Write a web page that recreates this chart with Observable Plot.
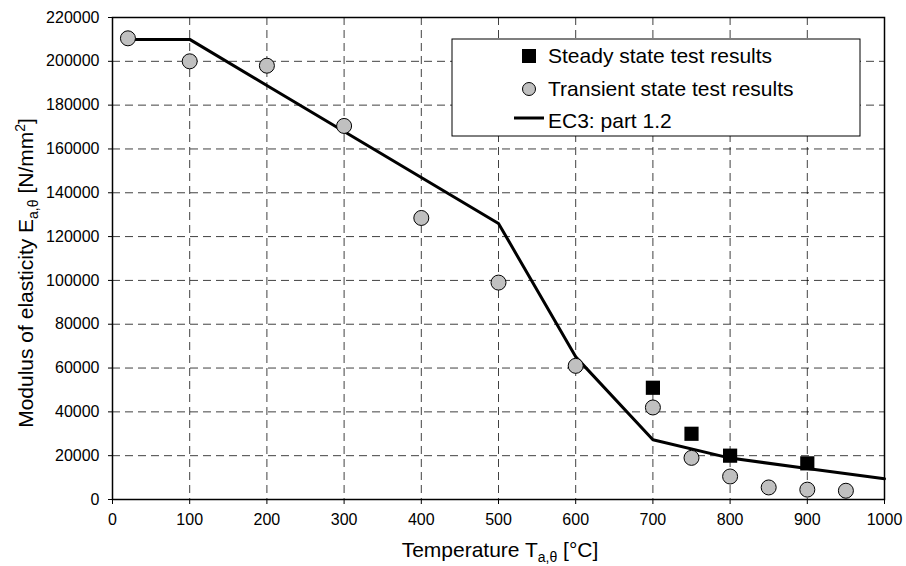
<!DOCTYPE html>
<html>
<head>
<meta charset="utf-8">
<script src="https://cdn.jsdelivr.net/npm/d3@7"></script>
<script src="https://cdn.jsdelivr.net/npm/@observablehq/plot@0.6"></script>
<style>
  body { margin: 0; background: #fff; }
  #chart svg { display: block; }
</style>
</head>
<body>
<div id="chart"></div>
<script>
// --- data ---
const transientT = [20, 100, 200, 300, 400, 500, 600, 700, 750, 800, 850, 900, 950];
const transientE = [210500, 200000, 198000, 170500, 128500, 99000, 61000, 42000, 19000, 10500, 5500, 4500, 4000];
const steadyT = [700, 750, 800, 900];
const steadyE = [51000, 30000, 20000, 16500];
const ec3T = [20, 100, 200, 300, 400, 500, 600, 700, 800, 900, 1000];
const ec3E = [210000, 210000, 189000, 168000, 147000, 126000, 65100, 27300, 18900, 14175, 9450];
const xTicks = [0, 100, 200, 300, 400, 500, 600, 700, 800, 900, 1000];
const yTicks = [0, 20000, 40000, 60000, 80000, 100000, 120000, 140000, 160000, 180000, 200000, 220000];
const legendLabels = ["Steady state test results", "Transient state test results", "EC3: part 1.2"];

const transient = transientT.map((t, i) => ({t, e: transientE[i]}));
const steady = steadyT.map((t, i) => ({t, e: steadyE[i]}));
const ec3 = ec3T.map((t, i) => ({t, e: ec3E[i]}));

const font = "'Liberation Sans', Arial, sans-serif";
const grid = {stroke: "#000", strokeOpacity: 0.75, strokeDasharray: "8,5", strokeWidth: 1};

const plot = Plot.plot({
  width: 906,
  height: 566,
  marginLeft: 112,
  marginRight: 22,
  marginTop: 17,
  marginBottom: 67,
  style: {fontFamily: font, fontSize: "16px", color: "#000", background: "#fff"},
  x: {domain: [0, 1000]},
  y: {domain: [0, 220000]},
  marks: [
    Plot.gridX(xTicks.slice(1, -1), grid),
    Plot.gridY(yTicks.slice(1, -1), grid),
    Plot.axisX(xTicks, {tickSize: 5, tickPadding: 9, label: null, tickFormat: d3.format("d"), fontSize: 16}),
    Plot.axisY(yTicks, {tickSize: 4, tickPadding: 9, label: null, tickFormat: d3.format("d"), fontSize: 16}),
    Plot.frame({stroke: "#000", strokeWidth: 1.5}),
    Plot.line(ec3, {x: "t", y: "e", stroke: "#000", strokeWidth: 3}),
    Plot.dot(transient, {x: "t", y: "e", r: 7.5, fill: "#c0c0c0", stroke: "#000", strokeWidth: 1}),
    Plot.dot(steady, {x: "t", y: "e", r: 8, symbol: "square", fill: "#000", stroke: "none"})
  ]
});
document.getElementById("chart").appendChild(plot);

const svg = d3.select(plot);

// axis labels with subscripts
const yl = svg.append("text")
  .attr("transform", "translate(33,273) rotate(-90)")
  .attr("text-anchor", "middle")
  .style("font-family", font).style("font-size", "21px").attr("fill", "#000");
yl.append("tspan").text("Modulus of elasticity E");
yl.append("tspan").attr("dy", 5).style("font-size", "14px").text("a,θ");
yl.append("tspan").attr("dy", -5).text(" [N/mm");
yl.append("tspan").attr("dy", -8).style("font-size", "14px").text("2");
yl.append("tspan").attr("dy", 8).text("]");

const xl = svg.append("text")
  .attr("x", 500).attr("y", 557)
  .attr("text-anchor", "middle")
  .style("font-family", font).style("font-size", "21px").attr("fill", "#000");
xl.append("tspan").text("Temperature T");
xl.append("tspan").attr("dy", 5).style("font-size", "14px").text("a,θ");
xl.append("tspan").attr("dy", -5).text(" [°C]");

// legend
const lg = svg.append("g");
lg.append("rect").attr("x", 452).attr("y", 39).attr("width", 408).attr("height", 97)
  .attr("fill", "#fff").attr("stroke", "#000").attr("stroke-width", 1);
lg.append("rect").attr("x", 522).attr("y", 49).attr("width", 14).attr("height", 14).attr("fill", "#000");
lg.append("circle").attr("cx", 529).attr("cy", 89).attr("r", 6.5).attr("fill", "#c0c0c0").attr("stroke", "#000");
lg.append("line").attr("x1", 514).attr("x2", 544).attr("y1", 118).attr("y2", 118).attr("stroke", "#000").attr("stroke-width", 3);
[63, 96, 128].forEach((y, i) => {
  lg.append("text").attr("x", 548).attr("y", y).attr("text-anchor", "start").text(legendLabels[i])
    .style("font-family", font).style("font-size", "21px").attr("fill", "#000");
});
</script>
</body>
</html>
